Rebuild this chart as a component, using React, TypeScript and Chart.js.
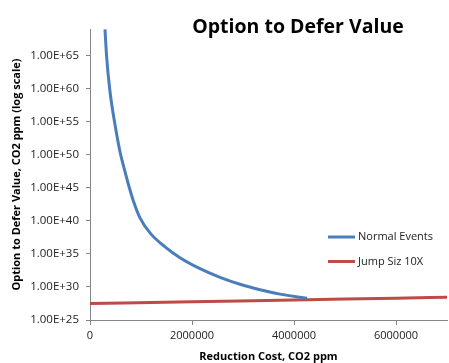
import React, { useEffect, useRef } from "react";
import { Chart, registerables } from "chart.js";

Chart.register(...registerables);

// Reduction cost (CO2 ppm) and option value for the "Normal Events" curve
const normalCost = [
  294000, 327000, 392000, 490000, 588000, 676000, 755000, 849000, 980000,
  1176000, 1471000, 1765000, 2157000, 2549000, 2941000, 3333000, 3725000,
  4255000,
];
const normalValue = [
  8.7e68, 5e64, 3.5e59, 3.5e54, 2.8e50, 5.3e47, 2.8e45, 1.1e43, 2.8e40,
  1.5e38, 1.15e36, 2.6e34, 5.7e32, 2.8e31, 2.5e30, 3.8e29, 8.1e28, 1.9e28,
];

// "Jump Siz 10X" series
const jumpCost = [0, 2000000, 4000000, 6000000, 7000000];
const jumpValue = [3e27, 5.6e27, 1.1e28, 2e28, 2.8e28];

// Axis ticks
const xTicks = [0, 2000000, 4000000, 6000000];
const yTickExponents = [25, 30, 35, 40, 45, 50, 55, 60, 65];

const seriesNames = ["Normal Events", "Jump Siz 10X"];
const seriesColors = ["#4a7ebb", "#be4b48"];

const FONT = "'Open Sans', 'Liberation Sans', sans-serif";

const overlay = {
  id: "overlay",
  afterDraw(chart: any) {
    const ctx = chart.ctx;
    ctx.save();
    ctx.fillStyle = "#000";
    ctx.font = `bold 19.5px ${FONT}`;
    ctx.textAlign = "center";
    ctx.textBaseline = "middle";
    ctx.fillText("Option to Defer Value", 298, 27);

    ctx.font = `11px ${FONT}`;
    ctx.textAlign = "left";
    seriesNames.forEach((name, i) => {
      const y = 237 + i * 24.5;
      ctx.strokeStyle = seriesColors[i];
      ctx.lineWidth = 3;
      ctx.beginPath();
      ctx.moveTo(328, y);
      ctx.lineTo(355, y);
      ctx.stroke();
      ctx.fillStyle = "#222";
      ctx.fillText(name, 358, y);
    });
    ctx.restore();
  },
};

export default function App() {
  const ref = useRef<HTMLCanvasElement | null>(null);

  useEffect(() => {
    if (!ref.current) return;
    const chart = new Chart(ref.current, {
      type: "scatter",
      data: {
        datasets: [
          {
            label: seriesNames[0],
            data: normalCost.map((x, i) => ({ x, y: normalValue[i] })),
            showLine: true,
            borderColor: seriesColors[0],
            backgroundColor: seriesColors[0],
            borderWidth: 3,
            pointRadius: 0,
            cubicInterpolationMode: "monotone",
          },
          {
            label: seriesNames[1],
            data: jumpCost.map((x, i) => ({ x, y: jumpValue[i] })),
            showLine: true,
            borderColor: seriesColors[1],
            backgroundColor: seriesColors[1],
            borderWidth: 3,
            pointRadius: 0,
            cubicInterpolationMode: "monotone",
          },
        ],
      },
      options: {
        responsive: false,
        animation: false,
        layout: { padding: { top: 29, right: 2, left: 0, bottom: 0 } },
        plugins: {
          legend: { display: false },
          tooltip: { enabled: false },
        },
        scales: {
          x: {
            type: "linear",
            min: 0,
            max: 7000000,
            afterBuildTicks: (scale: any) => {
              scale.ticks = xTicks.map((v) => ({ value: v }));
            },
            afterFit: (scale: any) => {
              scale.height = 43;
            },
            ticks: {
              callback: (v: any) => String(v),
              color: "#222",
              font: { family: FONT, size: 11 },
              padding: 4,
              maxRotation: 0,
            },
            grid: {
              drawOnChartArea: false,
              drawTicks: true,
              tickLength: 5,
              color: "#868686",
            },
            border: { display: true, color: "#868686" },
            title: {
              display: true,
              text: "Reduction Cost, CO2 ppm",
              color: "#000",
              font: { family: FONT, size: 11, weight: "bold" },
              padding: { top: 0, bottom: 0 },
            },
          },
          y: {
            type: "logarithmic",
            min: 1e25,
            max: 1e69,
            afterBuildTicks: (scale: any) => {
              scale.ticks = yTickExponents.map((e) => ({ value: Math.pow(10, e) }));
            },
            afterFit: (scale: any) => {
              scale.width = 90;
            },
            ticks: {
              callback: (v: any) =>
                "1.00E+" + Math.round(Math.log10(Number(v))),
              color: "#222",
              font: { family: FONT, size: 11.5 },
              padding: 7,
            },
            grid: {
              drawOnChartArea: false,
              drawTicks: true,
              tickLength: 4,
              color: "#868686",
            },
            border: { display: true, color: "#868686" },
            title: {
              display: true,
              text: "Option to Defer Value, CO2 ppm (log scale)",
              color: "#000",
              font: { family: FONT, size: 11, weight: "bold" },
              padding: { top: 10, bottom: 0 },
            },
          },
        },
      },
      plugins: [overlay],
    });
    return () => chart.destroy();
  }, []);

  return (
    <div style={{ position: "absolute", left: 0, top: 0, width: 449, height: 363, background: "#fff" }}>
      <canvas ref={ref} width={449} height={363} />
    </div>
  );
}
